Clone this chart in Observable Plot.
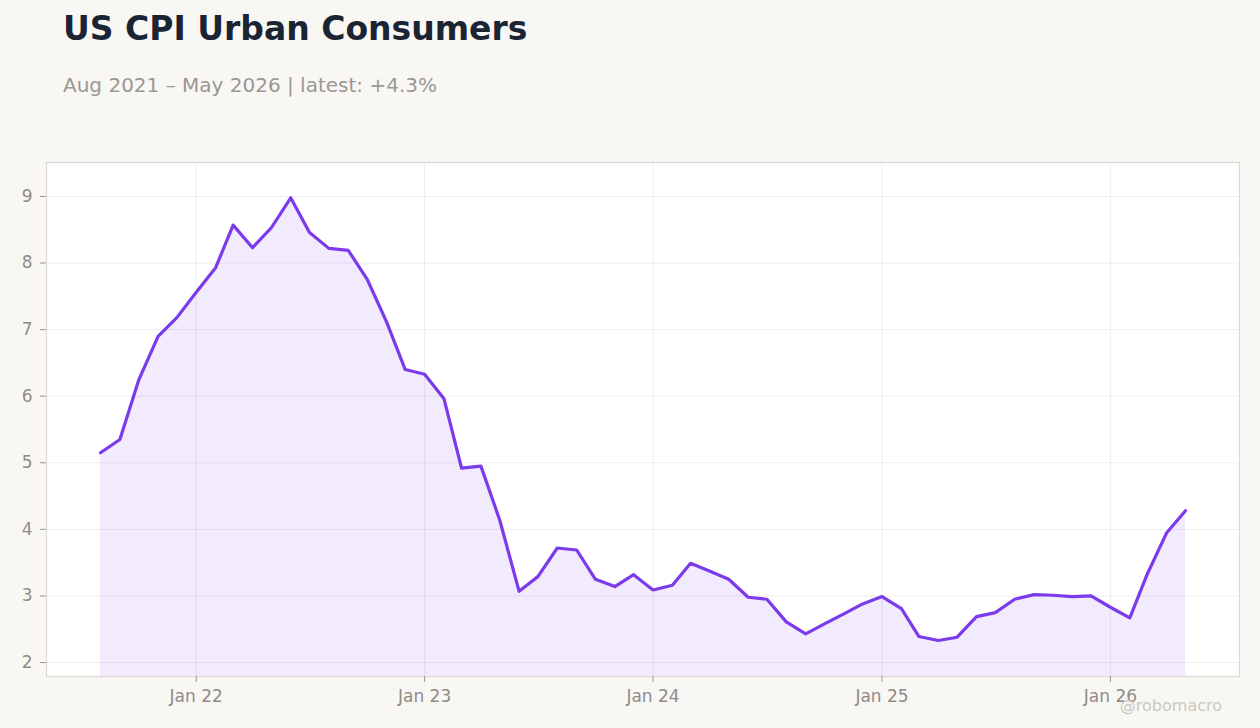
<!DOCTYPE html>
<html>
<head>
<meta charset="utf-8">
<script src="https://cdn.jsdelivr.net/npm/d3@7"></script>
<script src="https://cdn.jsdelivr.net/npm/@observablehq/plot@0.6"></script>
<style>
  html, body { margin: 0; padding: 0; background: #f8f7f4; }
  body { width: 1260px; height: 728px; position: relative; overflow: hidden; font-family: "DejaVu Sans", sans-serif; }
  #title { position: absolute; left: 63px; top: 12px; font-size: 33px; line-height: 33px; font-weight: bold; color: #1b2433; white-space: nowrap; }
  #subtitle { position: absolute; left: 63px; top: 75px; font-size: 20px; line-height: 20px; color: #9b9792; white-space: nowrap; }
  #chart { position: absolute; left: 0; top: 130px; }
  #credit { position: absolute; right: 38px; top: 698px; font-size: 16px; line-height: 16px; color: #cbc7c2; white-space: nowrap; }
</style>
</head>
<body>
<div id="title">US CPI Urban Consumers</div>
<div id="subtitle">Aug 2021 – May 2026 | latest: +4.3%</div>
<div id="chart"></div>
<div id="credit">@robomacro</div>
<script>
// Monthly series, Aug 2021 .. May 2026 (YoY %)
const startMonth = "2021-08";
const cpiValues = [
  5.15, 5.35, 6.24, 6.90, 7.18,
  7.56, 7.93, 8.57, 8.23, 8.53, 8.98, 8.46, 8.22, 8.19, 7.76, 7.12, 6.40,
  6.33, 5.96, 4.92, 4.95, 4.14, 3.07, 3.29, 3.72, 3.69, 3.25, 3.14, 3.32,
  3.09, 3.16, 3.49, 3.37, 3.25, 2.98, 2.95, 2.61, 2.43, 2.58, 2.73, 2.88,
  2.99, 2.81, 2.39, 2.33, 2.38, 2.69, 2.75, 2.95, 3.02, 3.01, 2.99, 3.00,
  2.83, 2.67, 3.33, 3.95, 4.28
];
const yTicks = [2, 3, 4, 5, 6, 7, 8, 9];
const yDomain = [1.79, 9.51];
const xTickFormat = "%b %y";

const start = d3.utcParse("%Y-%m")(startMonth);
const data = cpiValues.map((v, i) => ({ date: d3.utcMonth.offset(start, i), value: v }));
const xTicks = d3.utcYear.range(d3.utcYear.ceil(data[0].date), data[data.length - 1].date);

const lineColor = "#7c3aed";

const chart = Plot.plot({
  width: 1260,
  height: 598,
  marginTop: 32,
  marginBottom: 52,
  marginLeft: 46,
  marginRight: 21,
  style: { fontFamily: "DejaVu Sans, sans-serif", fontSize: "17px", color: "#8f8b86", background: "transparent" },
  x: { type: "utc", insetLeft: 54, insetRight: 54 },
  y: { domain: yDomain },
  marks: [
    Plot.frame({ fill: "#ffffff", stroke: "none" }),
    Plot.gridY(yTicks, { stroke: "#000", strokeOpacity: 0.07 }),
    Plot.gridX(xTicks, { stroke: "#000", strokeOpacity: 0.07 }),
    Plot.areaY(data, { x: "date", y1: yDomain[0], y2: "value", fill: lineColor, fillOpacity: 0.1 }),
    Plot.line(data, { x: "date", y: "value", stroke: lineColor, strokeWidth: 3.2, strokeLinejoin: "round" }),
    Plot.frame({ stroke: "#dcd7cf", strokeWidth: 1.2 }),
    Plot.axisY(yTicks, { tickSize: 6, tickPadding: 8, label: null, tickFormat: "d", stroke: "#9a958f", fill: "#8f8b86" }),
    Plot.axisX(xTicks, { tickSize: 6, tickPadding: 7, label: null, tickFormat: xTickFormat, stroke: "#9a958f", fill: "#8f8b86" })
  ]
});
document.getElementById("chart").appendChild(chart);
</script>
</body>
</html>
